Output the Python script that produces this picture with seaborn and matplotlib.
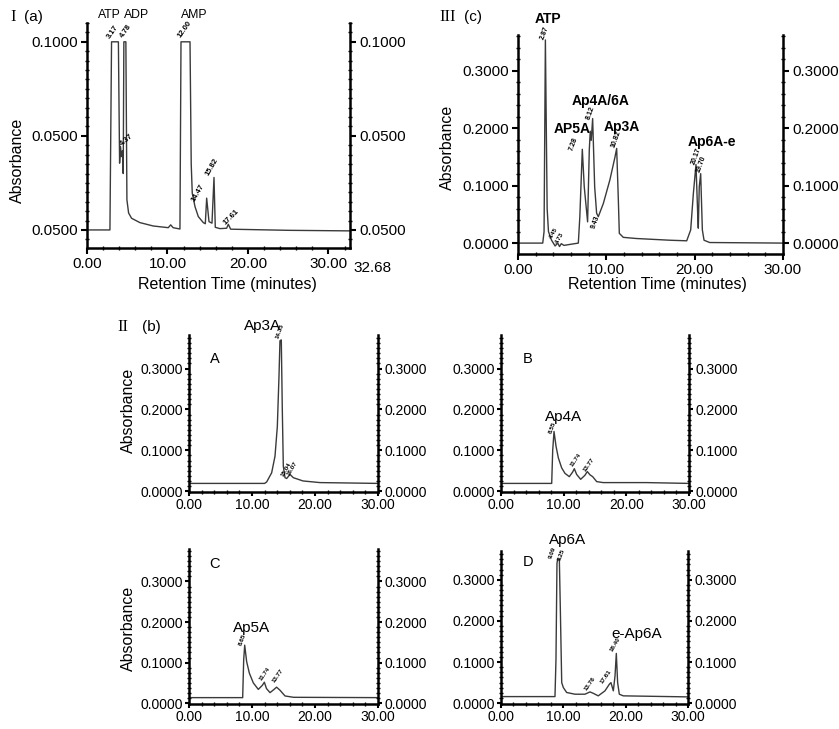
import matplotlib
matplotlib.use("Agg")
import matplotlib.pyplot as plt
import seaborn as sns
from matplotlib.ticker import MultipleLocator

# ---------------- data ----------------
# Panel I (a)
a_time = [0.0, 2.85, 3.05, 3.9, 4.05, 4.16, 4.28, 4.4, 4.5, 4.58, 4.83, 4.96, 5.17, 5.54,
          6.57, 8.23, 10.1, 10.4, 10.7, 11.55, 11.68, 12.8, 12.95, 13.08, 13.42, 13.83,
          14.45, 14.7, 14.87, 15.16, 15.53, 15.78, 15.94, 16.52, 17.35, 17.56, 17.85, 25.0, 32.68]
a_abs = [0.0, 0.0, 0.1, 0.1, 0.0355, 0.0444, 0.039, 0.042, 0.030, 0.1, 0.1, 0.016, 0.009, 0.0062,
         0.0039, 0.0021, 0.0012, 0.0027, 0.0012, 0.0005, 0.1, 0.1, 0.035, 0.0195, 0.0124, 0.0071,
         0.0039, 0.0033, 0.0169, 0.0044, 0.0036, 0.0279, 0.0014, 0.0007, 0.0009, 0.0030, 0.0004,
         -0.0002, -0.0005]

# Panel III (c)
c_time = [0.0, 2.8, 2.95, 3.1, 3.3, 3.45, 3.8, 4.2, 4.5, 4.7, 4.9, 5.2, 6.0, 6.83, 7.0, 7.28,
          7.5, 7.88, 8.07, 8.18, 8.29, 8.45, 8.68, 8.9, 9.09, 9.66, 10.4, 10.98, 11.17, 11.36,
          11.47, 11.92, 13.4, 17.2, 19.1, 19.55, 19.85, 20.15, 20.34, 20.41, 20.52, 20.68,
          20.87, 21.06, 21.7, 30.0]
c_abs = [0.0, 0.0, 0.02, 0.354, 0.06, 0.02, 0.005, -0.005, 0.0, -0.006, -0.001, -0.004, -0.002,
         0.0, 0.046, 0.1635, 0.098, 0.037, 0.162, 0.195, 0.179, 0.217, 0.098, 0.052, 0.046,
         0.069, 0.11, 0.15, 0.165, 0.075, 0.017, 0.010, 0.008, 0.005, 0.004, 0.023, 0.086,
         0.137, 0.052, 0.026, 0.098, 0.121, 0.023, 0.005, 0.001, 0.0]

# Panel II (b) A
pa_time = [0.0, 12.0, 12.33, 13.12, 13.65, 14.02, 14.28, 14.44, 14.65, 14.81, 14.97, 15.24,
           15.5, 16.03, 16.56, 18.1, 20.8, 25.6, 30.0]
pa_abs = [0.019, 0.019, 0.0226, 0.045, 0.0855, 0.158, 0.279, 0.368, 0.37, 0.2, 0.061, 0.033,
          0.031, 0.041, 0.033, 0.025, 0.021, 0.020, 0.019]

# Panel II (b) B
pb_time = [0.0, 8.09, 8.25, 8.46, 8.78, 9.15, 9.68, 10.21, 10.9, 11.44, 11.7, 12.07, 12.71,
           13.4, 13.77, 14.2, 14.63, 15.27, 16.3, 23.2, 30.0]
pb_abs = [0.019, 0.019, 0.10, 0.146, 0.11, 0.0815, 0.057, 0.0436, 0.0355, 0.047, 0.055, 0.041,
          0.029, 0.039, 0.048, 0.040, 0.0355, 0.0234, 0.021, 0.021, 0.019]

# Panel II (b) C
pc_time = [0.0, 8.52, 8.68, 8.84, 9.15, 9.58, 10.21, 11.0, 11.64, 11.96, 12.3, 12.86, 13.5,
           13.9, 14.44, 15.24, 16.6, 30.0]
pc_abs = [0.0137, 0.0137, 0.1065, 0.143, 0.1025, 0.074, 0.05, 0.034, 0.044, 0.0517, 0.036,
          0.026, 0.034, 0.0395, 0.032, 0.0178, 0.0145, 0.0137]

# Panel II (b) D
pd_time = [0.0, 8.66, 8.82, 8.98, 9.09, 9.36, 9.52, 9.74, 10.0, 10.53, 11.87, 13.47, 14.27,
           14.8, 15.6, 16.68, 17.38, 17.64, 18.02, 18.29, 18.5, 18.71, 18.98, 19.62, 30.0]
pd_abs = [0.016, 0.016, 0.1065, 0.34, 0.35, 0.349, 0.228, 0.05, 0.038, 0.026, 0.0218, 0.0218,
          0.0274, 0.024, 0.0178, 0.03, 0.046, 0.05, 0.03, 0.066, 0.121, 0.05, 0.0218, 0.0178,
          0.0153]

x_ticks = [0, 10, 20, 30]
x_ticklabels = ["0.00", "10.00", "20.00", "30.00"]
a_yticks = [0.0, 0.05, 0.1]
a_yticklabels = ["0.0500", "0.0500", "0.1000"]
c_yticks = [0.0, 0.1, 0.2, 0.3]
c_yticklabels = ["0.0000", "0.1000", "0.2000", "0.3000"]

# ---------------- figure ----------------
sns.set_theme(style="ticks", rc={"axes.edgecolor": "black", "xtick.color": "black",
                                 "ytick.color": "black", "text.color": "black",
                                 "axes.labelcolor": "black"})
plt.rcParams['font.family'] = ['Liberation Sans', 'DejaVu Sans']

W, H = 839, 729
fig = plt.figure(figsize=(W / 100, H / 100), dpi=100)
LINE = "#3a3a3a"


def add_ax(l, t, r, b):
    return fig.add_axes([l / W, 1 - b / H, (r - l) / W, (b - t) / H])


def style(ax, xlim, ylim, yticks, ylabels, ystep, fs, tlen, pad):
    ax.set_xlim(*xlim)
    ax.set_ylim(*ylim)
    ax.spines['top'].set_visible(False)
    for s in ['left', 'right', 'bottom']:
        ax.spines[s].set_linewidth(1.8)
        ax.spines[s].set_visible(True)
    ax.set_yticks(yticks)
    ax.set_yticklabels(ylabels)
    ax.yaxis.set_minor_locator(MultipleLocator(ystep))
    ax.set_xticks(x_ticks)
    ax.set_xticklabels(x_ticklabels)
    ax.xaxis.set_minor_locator(MultipleLocator(2))
    ax.tick_params(axis='y', which='both', left=True, right=True,
                   labelleft=True, labelright=True)
    ax.tick_params(which='major', length=tlen, width=1.5, direction='out',
                   labelsize=fs, pad=pad)
    ax.tick_params(which='minor', length=2.2, width=1.0, direction='inout')
    ax.set_xlabel('')
    ax.set_ylabel('')
    ax.patch.set_alpha(0)


def curve(ax, t, v):
    sns.lineplot(x=t, y=v, ax=ax, color=LINE, linewidth=1.0, estimator=None, sort=False)


def plabel(ax, x, y, s, rot=60, fs=5.5):
    ax.text(x, y, s, fontsize=fs, fontweight='bold', rotation=rot, rotation_mode='anchor',
            ha='left', va='bottom', clip_on=False)


def ftext(px, py, s, **kw):
    fig.text(px / W, 1 - py / H, s, **kw)


SERIF = ['Liberation Serif', 'DejaVu Serif']

# ---- Panel I (a)
axA = add_ax(87, 23, 350, 248)
curve(axA, a_time, a_abs)
style(axA, (0, 32.68), (-0.0096, 0.110), a_yticks, a_yticklabels, 0.005, 11, 4, 2.5)
axA.text(1.012, -0.058, "32.68", transform=axA.transAxes, ha='left', va='top', fontsize=11)
for x, s in [(2.73, "ATP"), (6.2, "ADP"), (13.35, "AMP")]:
    axA.text(x, 0.1144, s, ha='center', va='center', fontsize=8.8, clip_on=False)
plabel(axA, 3.1, 0.101, "3.17", 55)
plabel(axA, 4.6, 0.1016, "4.78", 55)
plabel(axA, 11.8, 0.1016, "12.00", 55)
plabel(axA, 4.5, 0.044, "4.37", 40)
plabel(axA, 13.6, 0.0143, "14.47", 60)
plabel(axA, 15.3, 0.028, "15.82", 60)
plabel(axA, 17.35, 0.0018, "17.61", 45)
ftext(17, 160, "Absorbance", rotation=90, ha='center', va='center', fontsize=11.5)
ftext(227, 285, "Retention Time (minutes)", ha='center', va='center', fontsize=11.5)
ftext(13, 17, "I", family=SERIF, fontsize=12, ha='center', va='center')
ftext(33, 17, "(a)", fontsize=11, ha='center', va='center')

# ---- Panel III (c)
axC = add_ax(518, 35, 783, 254)
curve(axC, c_time, c_abs)
style(axC, (0, 30), (-0.019, 0.3626), c_yticks, c_yticklabels, 0.02, 11, 4, 2.5)
for x, y, s in [(3.4, 0.39, "ATP"), (9.3, 0.247, "Ap4A/6A"), (6.1, 0.198, "AP5A"),
                (11.8, 0.203, "Ap3A"), (22.0, 0.176, "Ap6A-e")]:
    axC.text(x, y, s, ha='center', va='center', fontsize=10, fontweight='bold',
             clip_on=False)
plabel(axC, 3.17, 0.353, "2.87", 70, 5)
plabel(axC, 3.93, 0.007, "4.45", 60, 4.5)
plabel(axC, 4.57, -0.003, "4.73", 60, 4.5)
plabel(axC, 6.45, 0.159, "7.28", 70, 5)
plabel(axC, 8.34, 0.214, "8.12", 70, 5)
plabel(axC, 8.9, 0.0226, "9.43", 70, 5)
plabel(axC, 11.1, 0.165, "10.82", 70, 5)
plabel(axC, 20.23, 0.1357, "20.17", 70, 5)
plabel(axC, 20.8, 0.121, "19.70", 70, 5)
ftext(447, 147, "Absorbance", rotation=90, ha='center', va='center', fontsize=11.5)
ftext(657, 285, "Retention Time (minutes)", ha='center', va='center', fontsize=11.5)
ftext(448, 17, "III", family=SERIF, fontsize=12, ha='center', va='center')
ftext(473, 17, "(c)", fontsize=11, ha='center', va='center')

# ---- Panel II (b) A-D
panels = [
    ((189, 335, 378, 492), pa_time, pa_abs, (0, 0.382), "A"),
    ((501, 335, 689, 492), pb_time, pb_abs, (0, 0.382), "B"),
    ((189, 549, 378, 704), pc_time, pc_abs, (0, 0.380), "C"),
    ((501, 551, 688, 704), pd_time, pd_abs, (0, 0.370), "D"),
]
axes = {}
for box, t, v, yl, name in panels:
    ax = add_ax(*box)
    curve(ax, t, v)
    style(ax, (0, 30), (yl[0] - 0.002, yl[1]), c_yticks, c_yticklabels, 0.0125, 10, 3, 1.5)
    ax.text(4.3 if name in "BD" else 4.1, 0.324 if name in "AB" else 0.344, name,
            ha='center', va='center', fontsize=10.5)
    axes[name] = ax

ax = axes["A"]
ax.text(11.6, 0.404, "Ap3A", ha='center', va='center', fontsize=11, clip_on=False)
plabel(ax, 14.44, 0.372, "14.35", 70, 4.5)
plabel(ax, 15.2, 0.034, "15.04", 60, 4.5)
plabel(ax, 16.1, 0.037, "16.07", 60, 4.5)

ax = axes["B"]
ax.text(10.05, 0.182, "Ap4A", ha='center', va='center', fontsize=11)
plabel(ax, 8.25, 0.14, "8.55", 70, 4.5)
plabel(ax, 11.54, 0.057, "11.74", 55, 4.5)
plabel(ax, 13.56, 0.045, "13.77", 55, 4.5)

ax = axes["C"]
ax.text(10.0, 0.186, "Ap5A", ha='center', va='center', fontsize=11)
plabel(ax, 8.5, 0.139, "8.65", 70, 4.5)
plabel(ax, 11.7, 0.054, "11.74", 55, 4.5)
plabel(ax, 13.75, 0.048, "13.77", 55, 4.5)

ax = axes["D"]
ax.text(10.6, 0.397, "Ap6A", ha='center', va='center', fontsize=11, clip_on=False)
ax.text(21.7, 0.169, "e-Ap6A", ha='center', va='center', fontsize=11)
plabel(ax, 8.3, 0.349, "9.09", 70, 4.5)
plabel(ax, 9.7, 0.345, "9.25", 70, 4.5)
plabel(ax, 13.85, 0.027, "13.76", 55, 4.5)
plabel(ax, 16.5, 0.046, "17.61", 55, 4.5)
plabel(ax, 18.1, 0.123, "18.40", 60, 4.5)

ftext(128, 410, "Absorbance", rotation=90, ha='center', va='center', fontsize=11.5)
ftext(128, 628, "Absorbance", rotation=90, ha='center', va='center', fontsize=11.5)
ftext(123, 327, "II", family=SERIF, fontsize=12, ha='center', va='center')
ftext(151, 327, "(b)", fontsize=11, ha='center', va='center')

fig.savefig("out.png", dpi=100)
